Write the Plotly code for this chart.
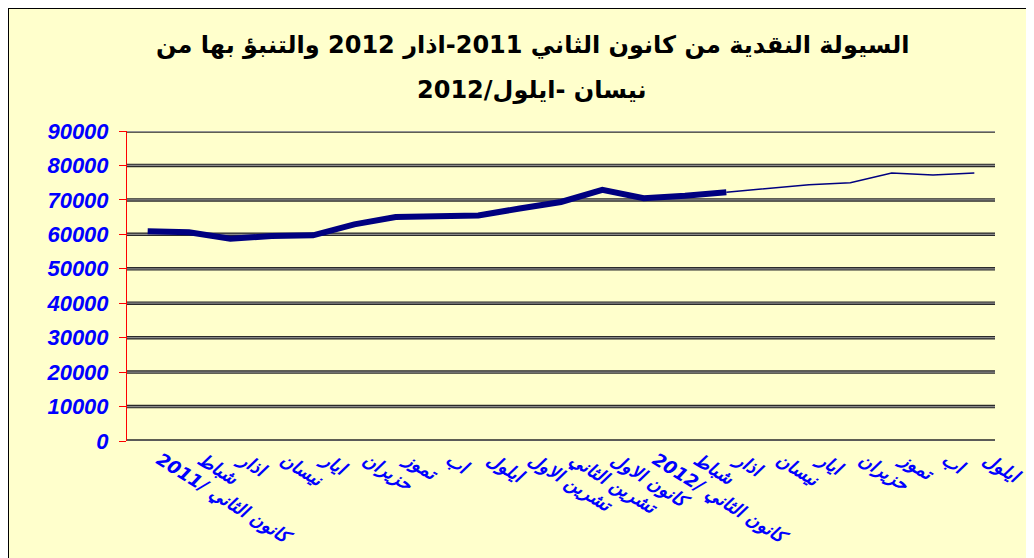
import plotly.graph_objects as go

months = ["كانون الثاني /2011", "شباط", "اذار", "نيسان", "ايار", "حزيران", "تموز", "اب", "ايلول",
          "تشرين الاول", "تشرين الثاني", "كانون الاول", "كانون الثاني /2012", "شباط", "اذار",
          "نيسان", "ايار", "حزيران", "تموز", "اب", "ايلول"]
actual = [60900, 60600, 58700, 59500, 59700, 62900, 65000, 65400, 65500, 67500, 69400,
          72900, 70500, 71200, 72200]
forecast = [72200, 73300, 74400, 75000, 77800, 77200, 77800]
y_ticks = [0, 10000, 20000, 30000, 40000, 50000, 60000, 70000, 80000, 90000]
title_line1 = "السيولة النقدية من كانون الثاني 2011-اذار 2012 والتنبؤ بها من"
title_line2 = "نيسان -ايلول/2012"

W, H = 1034, 558
L, R, T, B = 119, 47, 123, 125
pw, ph = W - L - R, H - T - B

def px2paper_x(px):
    return (px - L) / pw

def px2paper_y(py):
    return (H - B - py) / ph

x_all = list(range(len(months)))
x_act = x_all[:len(actual)]
x_fc = x_all[len(actual) - 1:len(actual) - 1 + len(forecast)]

fig = go.Figure()
fig.add_trace(go.Scatter(x=x_act, y=actual, mode="lines",
                         line=dict(color="#000080", width=6), showlegend=False))
fig.add_trace(go.Scatter(x=x_fc, y=forecast, mode="lines",
                         line=dict(color="#000080", width=1.5), showlegend=False))

shapes = [dict(type="rect", xref="paper", yref="paper",
               x0=px2paper_x(0), x1=px2paper_x(1060), y0=px2paper_y(0), y1=px2paper_y(580),
               fillcolor="#FFFFCC", line=dict(color="black", width=2), layer="below")]
for v in y_ticks:
    shapes.append(dict(type="line", xref="paper", yref="y", x0=0, x1=1, y0=v, y1=v,
                       line=dict(color="#2a2a2a", width=3.5), layer="below"))
for v in y_ticks:
    shapes.append(dict(type="line", xref="paper", yref="y", x0=0, x1=1, y0=v, y1=v,
                       line=dict(color="#FFFFFF" if v == y_ticks[-1] else "#8a8a8a", width=1.2),
                       layer="below"))

title_font = dict(family="DejaVu Sans, Arial", size=24, color="black", weight="bold")
annotations = [
    dict(text=title_line1, xref="paper", yref="paper", x=px2paper_x(524), y=px2paper_y(37),
         xanchor="center", yanchor="middle", showarrow=False, font=title_font),
    dict(text=title_line2, xref="paper", yref="paper", x=px2paper_x(524), y=px2paper_y(82),
         xanchor="center", yanchor="middle", showarrow=False, font=title_font),
]

fig.update_layout(
    width=W, height=H,
    margin=dict(l=L, r=R, t=T, b=B, pad=0),
    paper_bgcolor="#FFFFCC",
    plot_bgcolor="rgba(0,0,0,0)",
    shapes=shapes,
    annotations=annotations,
    xaxis=dict(range=[-0.5, len(months) - 0.5], tickvals=x_all, ticktext=months,
               tickangle=32, showgrid=False, zeroline=False, showline=False, ticks="",
               ticklabelshift=12, ticklabelstandoff=4,
               tickfont=dict(family="DejaVu Sans, Arial", size=18, color="#0000FF",
                             weight="bold", style="italic")),
    yaxis=dict(range=[0, 90000], tickvals=y_ticks, tickformat="d", showgrid=False,
               zeroline=False, showline=True,
               linecolor="#FF0000", linewidth=1,
               ticks="outside", tickcolor="#FF0000", ticklen=7, tickwidth=1,
               ticklabelstandoff=6,
               tickfont=dict(family="Liberation Sans, Arial", size=22, color="#0000FF",
                             weight="bold", style="italic")),
)

fig.write_html("out.html")
